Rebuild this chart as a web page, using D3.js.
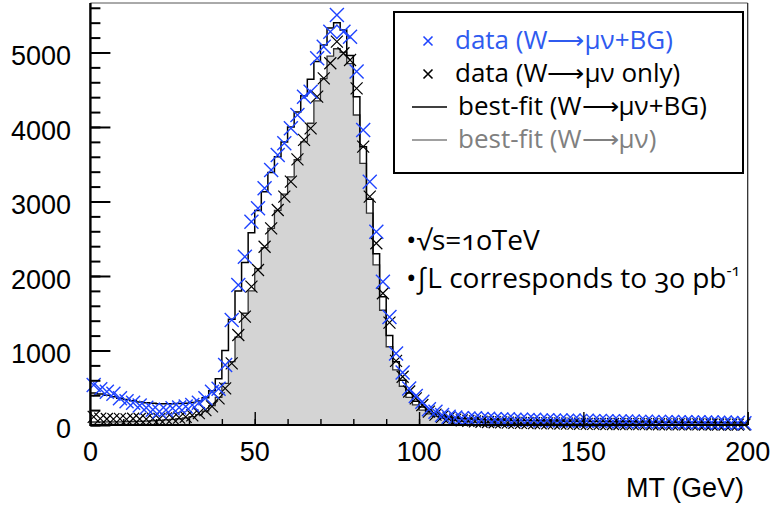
<!DOCTYPE html>
<html lang="en">
<head>
<meta charset="utf-8">
<title>MT fit</title>
<script src="https://d3js.org/d3.v7.min.js"></script>
<style>
  body { margin: 0; background: #fff; }
  .tick-label { font-family: "Liberation Sans", Arial, sans-serif; font-size: 27px; fill: #000; }
  .leg { font-family: "Open Sans", sans-serif; font-size: 26px; }
  .note { font-family: "Open Sans", sans-serif; font-size: 28px; fill: #000; font-variant-numeric: oldstyle-nums; }
</style>
</head>
<body>
<script>
const width = 771, height = 509;

// histogram binning: 100 bins of 2 GeV from 0 to 200
const binWidth = 2;
const xTicks = [0, 50, 100, 150, 200];
const yTicks = [0, 1000, 2000, 3000, 4000, 5000];

// data (W->munu + BG), blue crosses
const dataTotal = [
  537, 480, 447, 420, 358, 320, 300, 262, 232, 205,
  182, 200, 225, 235, 248, 268, 300, 358, 447, 485,
  805, 1409, 1879, 2259, 2729, 2908, 3177, 3423, 3624, 3781,
  3982, 4161, 4407, 4474, 4922, 5078, 5279, 5503, 5279, 5212,
  4743, 3960, 3266, 2595, 1924, 1450, 960, 705, 490, 390,
  313, 210, 179, 134, 112, 100, 92, 86, 90, 80,
  84, 78, 74, 78, 70, 72, 66, 70, 62, 65,
  60, 62, 58, 60, 55, 57, 52, 55, 50, 52,
  48, 46, 48, 42, 45, 40, 42, 38, 40, 36,
  38, 35, 36, 32, 34, 30, 32, 28, 30, 24
];

// data (W->munu only), black crosses
const dataSignal = [
  110, 85, 80, 78, 82, 76, 84, 80, 78, 86,
  82, 88, 92, 98, 110, 130, 160, 200, 250, 358,
  492, 828, 1208, 1454, 1857, 2081, 2393, 2640, 2886, 3065,
  3266, 3566, 3826, 3982, 4407, 4653, 4855, 5145, 4989, 4899,
  4519, 3736, 3065, 2439, 1768, 1375, 860, 648, 450, 358,
  268, 179, 140, 110, 88, 72, 62, 55, 48, 44,
  40, 37, 35, 32, 30, 28, 27, 25, 24, 22,
  21, 20, 19, 18, 17, 16, 15, 15, 14, 13,
  13, 12, 12, 11, 11, 10, 10, 9, 9, 9,
  8, 8, 8, 7, 7, 7, 6, 6, 6, 5
];

// best-fit (W->munu + BG), black step line
const fitTotal = [
  430, 415, 398, 380, 360, 342, 325, 310, 300, 292,
  286, 284, 284, 287, 292, 302, 322, 365, 460, 620,
  1000, 1420, 1800, 2180, 2580, 2880, 3130, 3390, 3600, 3800,
  4000, 4200, 4420, 4640, 4880, 5100, 5330, 5400, 5300, 4960,
  4407, 3736, 3030, 2300, 1720, 1200, 850, 600, 430, 320,
  240, 185, 148, 122, 104, 92, 84, 80, 76, 73,
  70, 68, 66, 64, 62, 60, 59, 57, 56, 55,
  54, 53, 52, 51, 50, 49, 48, 47, 46, 45,
  44, 43, 42, 41, 40, 39, 38, 37, 36, 35,
  34, 33, 32, 31, 30, 30, 29, 28, 27, 26
];

// best-fit (W->munu), gray filled histogram
const fitSignal = [
  40, 40, 41, 42, 43, 45, 47, 50, 53, 57,
  62, 68, 75, 84, 96, 113, 140, 185, 260, 370,
  560, 850, 1180, 1500, 1800, 2100, 2380, 2640, 2880, 3100,
  3330, 3560, 3800, 4050, 4350, 4650, 4950, 5050, 5000, 4850,
  4161, 3512, 2845, 2150, 1540, 1050, 740, 520, 370, 270,
  200, 150, 115, 90, 72, 60, 50, 43, 38, 34,
  31, 28, 26, 24, 22, 21, 20, 19, 18, 17,
  16, 15, 15, 14, 14, 13, 13, 12, 12, 11,
  11, 10, 10, 10, 9, 9, 9, 8, 8, 8,
  7, 7, 7, 7, 6, 6, 6, 6, 5, 5
];

const plotL = 90.4, plotR = 747.7, plotT = 3, plotB = 425;
const blue = "#1f44ff";

const x = d3.scaleLinear().domain([0, 200]).range([plotL, plotR]);
const y = d3.scaleLinear().domain([0, 5664]).range([plotB, plotT]);

const svg = d3.select("body").append("svg")
  .attr("width", width).attr("height", height);

// step points at bin low edges, plus the last high edge
function steps(vals) {
  const pts = vals.map((v, i) => [i * binWidth, v]);
  pts.push([vals.length * binWidth, vals[vals.length - 1]]);
  return pts;
}

const area = d3.area().curve(d3.curveStepAfter)
  .x(d => x(d[0])).y0(y(0)).y1(d => y(d[1]));
const line = d3.line().curve(d3.curveStepAfter)
  .x(d => x(d[0])).y(d => y(d[1]));

// gray signal fit
svg.append("path").datum(steps(fitSignal))
  .attr("d", area).attr("fill", "#d4d4d4").attr("stroke", "none");
svg.append("path").datum(steps(fitSignal))
  .attr("d", line).attr("fill", "none").attr("stroke", "#333").attr("stroke-width", 1.3);

// total fit
svg.append("path").datum(steps(fitTotal))
  .attr("d", line).attr("fill", "none").attr("stroke", "#000").attr("stroke-width", 1.5);

function cross(r) {
  return `M${-r},${-r}L${r},${r}M${-r},${r}L${r},${-r}`;
}
const centers = dataTotal.map((d, i) => i * binWidth + binWidth / 2);

svg.append("g").selectAll("path")
  .data(dataSignal).join("path")
  .attr("transform", (d, i) => `translate(${x(centers[i])},${y(d)})`)
  .attr("d", cross(6))
  .attr("stroke", "#000").attr("stroke-width", 1.2).attr("fill", "none");

svg.append("g").selectAll("path")
  .data(dataTotal).join("path")
  .attr("transform", (d, i) => `translate(${x(centers[i])},${y(d)})`)
  .attr("d", cross(7))
  .attr("stroke", blue).attr("stroke-width", 1.4).attr("fill", "none");

// frame
svg.append("line").attr("x1", plotL).attr("x2", plotR).attr("y1", plotT).attr("y2", plotT)
  .attr("stroke", "#555").attr("stroke-width", 1);
svg.append("line").attr("x1", plotR).attr("x2", plotR).attr("y1", plotT).attr("y2", plotB)
  .attr("stroke", "#222").attr("stroke-width", 1.2);

// axes (ticks drawn inward)
const yAxis = d3.axisRight(y).tickValues(yTicks).tickSize(20).tickFormat("");
const yMinor = d3.axisRight(y).tickValues(d3.range(0, 5601, 200)).tickSize(10).tickFormat("");
const gy = svg.append("g").attr("transform", `translate(${plotL},0)`);
gy.append("g").call(yMinor);
gy.append("g").call(yAxis);
gy.selectAll(".domain").remove();
gy.selectAll("line").attr("stroke", "#000").attr("stroke-width", 2);
svg.append("line").attr("x1", plotL).attr("x2", plotL).attr("y1", plotT).attr("y2", plotB + 1)
  .attr("stroke", "#000").attr("stroke-width", 2.4);

const xAxis = d3.axisTop(x).tickValues(xTicks).tickSize(13).tickFormat("");
const xMinor = d3.axisTop(x).tickValues(d3.range(0, 201, 10)).tickSize(6).tickFormat("");
const gx = svg.append("g").attr("transform", `translate(0,${plotB})`);
gx.append("g").call(xMinor);
gx.append("g").call(xAxis);
gx.selectAll(".domain").remove();
gx.selectAll("line").attr("stroke", "#000").attr("stroke-width", 1.4);
svg.append("line").attr("x1", plotL).attr("x2", plotR).attr("y1", plotB).attr("y2", plotB)
  .attr("stroke", "#000").attr("stroke-width", 2);

// tick labels
svg.selectAll(".ylab").data(yTicks).join("text")
  .attr("class", "tick-label").attr("text-anchor", "end")
  .attr("x", 71).attr("y", d => y(d) + 13).text(d => d);
svg.selectAll(".xlab").data(xTicks).join("text")
  .attr("class", "tick-label").attr("text-anchor", "middle")
  .attr("x", d => x(d)).attr("y", 461).text(d => d);
svg.append("text").attr("class", "tick-label").attr("text-anchor", "end")
  .attr("x", 744).attr("y", 497).text("MT (GeV)");

// legend
svg.append("rect").attr("x", 394).attr("y", 12).attr("width", 349).attr("height", 161)
  .attr("fill", "#fff").attr("stroke", "#000").attr("stroke-width", 2);
const legend = [
  { label: "data (W\u27F6\u03BC\u03BD+BG)", color: "#2f5bef", mark: "x", tx: 455 },
  { label: "data (W\u27F6\u03BC\u03BD only)", color: "#000", mark: "x", tx: 455 },
  { label: "best-fit (W\u27F6\u03BC\u03BD+BG)", color: "#000", mark: "l", tx: 458 },
  { label: "best-fit (W\u27F6\u03BC\u03BD)", color: "#808080", mark: "l", tx: 458 }
];
legend.forEach((d, i) => {
  const base = 49 + i * 33;
  if (d.mark === "x") {
    svg.append("path").attr("transform", `translate(428,${base - 8})`)
      .attr("d", cross(4.5)).attr("stroke", d.color === "#000" ? "#000" : blue)
      .attr("stroke-width", 1.6).attr("fill", "none");
  } else {
    svg.append("line").attr("x1", 412).attr("x2", 447)
      .attr("y1", base - 8).attr("y2", base - 8)
      .attr("stroke", d.color).attr("stroke-width", 1.6);
  }
  svg.append("text").attr("class", "leg").attr("x", d.tx).attr("y", base)
    .attr("fill", d.color).text(d.label);
});

// annotations
svg.append("text").attr("class", "note").attr("x", 406).attr("y", 250)
  .text("\u2022\u221As=10TeV");
const n2 = svg.append("text").attr("class", "note").attr("x", 406).attr("y", 288);
n2.append("tspan").text("\u2022\u222BL corresponds to 30 pb");
n2.append("tspan").attr("font-size", "16px").attr("dy", -12).text("-1");
</script>
</body>
</html>
